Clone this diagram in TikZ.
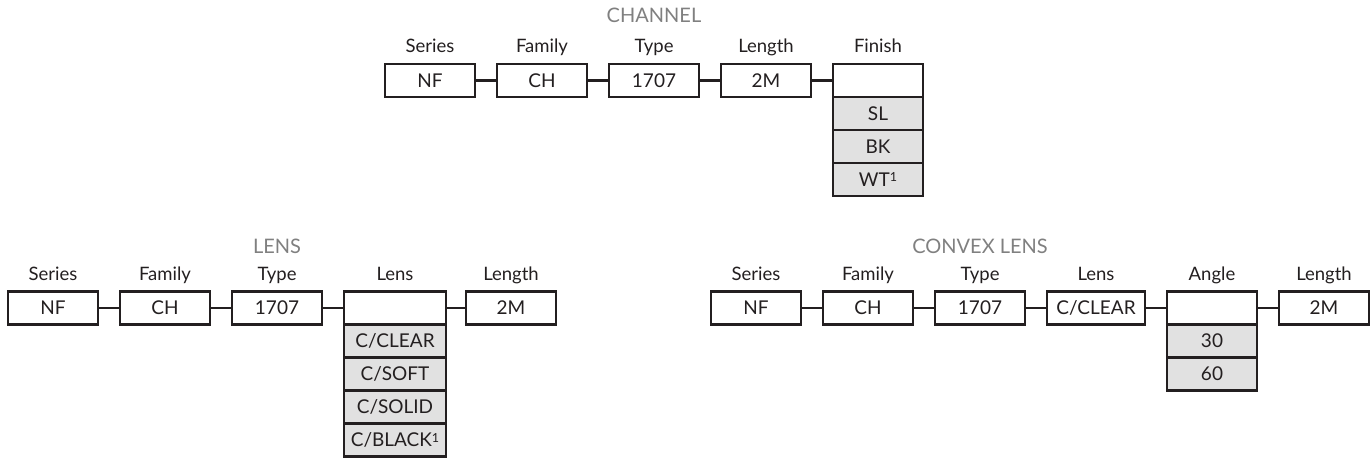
\documentclass[tikz,border=0pt]{standalone}
\usepackage{fontspec}
\setmainfont{Lato}
\usepackage{xcolor}
\usetikzlibrary{positioning}
\definecolor{codeline}{HTML}{231F20}
\definecolor{optfill}{HTML}{E1E1E1}
\definecolor{titlegray}{HTML}{808080}
\newcommand{\noteone}{\raisebox{4.5pt}{\fontsize{12.5}{12.5}\selectfont 1}}

\begin{document}
\begin{tikzpicture}[
        x=1pt, y=-1pt,
        node distance=22pt,
        field/.style={
            draw=codeline,
            line width=2.2pt,
            minimum width=90pt,
            minimum height=33pt,
            inner sep=0pt,
            outer sep=0pt,
            fill=white,
            text=codeline,
            font=\fontsize{19}{19}\selectfont
        },
        option/.style={field, fill=optfill},
        heading/.style={text=codeline, inner sep=0pt, text height=13pt, text depth=4pt,
            font=\fontsize{18.5}{18.5}\selectfont},
        grouptitle/.style={text=titlegray, inner sep=0pt, anchor=base,
            font=\fontsize{20}{20}\selectfont},
        link/.style={draw=codeline, line width=2.2pt}
    ]
        \useasboundingbox (0,0) rectangle (1372,460);

        % channel
        \node[grouptitle] (chtitle) at (654,23) {CHANNEL};
        \node[field] (chseries) at (430,80.5) {NF};
        \node[field, right=of chseries] (chfamily) {CH};
        \node[field, right=of chfamily] (chtype) {1707};
        \node[field, right=of chtype] (chlength) {2M};
        \node[field, right=of chlength] (chfinish) {};
        \node[option, below=0pt of chfinish] (chsl) {SL};
        \node[option, below=0pt of chsl] (chbk) {BK};
        \node[option, below=0pt of chbk] (chwt) {WT\noteone};
        \foreach \f/\t in {chseries/Series, chfamily/Family, chtype/Type, chlength/Length, chfinish/Finish}
            \node[heading, above=7pt of \f] {\t};
        \draw[link] (chseries) -- (chfamily);
        \draw[link] (chfamily) -- (chtype);
        \draw[link] (chtype) -- (chlength);
        \draw[link] (chlength) -- (chfinish);

        % lens
        \node[grouptitle] (lstitle) at (277,253) {LENS};
        \node[field] (lsseries) at (53,308) {NF};
        \node[field, right=of lsseries] (lsfamily) {CH};
        \node[field, right=of lsfamily] (lstype) {1707};
        \node[field, right=of lstype, minimum width=102pt] (lslens) {};
        \node[field, right=20pt of lslens] (lslength) {2M};
        \node[option, below=0pt of lslens, minimum width=102pt] (lsclear) {C/CLEAR};
        \node[option, below=0pt of lsclear, minimum width=102pt] (lssoft) {C/SOFT};
        \node[option, below=0pt of lssoft, minimum width=102pt] (lssolid) {C/SOLID};
        \node[option, below=0pt of lssolid, minimum width=102pt] (lsblack) {C/BLACK\noteone};
        \foreach \f/\t in {lsseries/Series, lsfamily/Family, lstype/Type, lslens/Lens, lslength/Length}
            \node[heading, above=7pt of \f] {\t};
        \draw[link] (lsseries) -- (lsfamily);
        \draw[link] (lsfamily) -- (lstype);
        \draw[link] (lstype) -- (lslens);
        \draw[link] (lslens) -- (lslength);

        % convex lens
        \node[grouptitle] (cxtitle) at (980,253) {CONVEX LENS};
        \node[field] (cxseries) at (756,308) {NF};
        \node[field, right=of cxseries] (cxfamily) {CH};
        \node[field, right=of cxfamily] (cxtype) {1707};
        \node[field, right=of cxtype, minimum width=98pt] (cxlens) {C/CLEAR};
        \node[field, right=of cxlens] (cxangle) {};
        \node[field, right=of cxangle] (cxlength) {2M};
        \node[option, below=0pt of cxangle] (cxthirty) {30};
        \node[option, below=0pt of cxthirty] (cxsixty) {60};
        \foreach \f/\t in {cxseries/Series, cxfamily/Family, cxtype/Type, cxlens/Lens, cxangle/Angle, cxlength/Length}
            \node[heading, above=7pt of \f] {\t};
        \draw[link] (cxseries) -- (cxfamily);
        \draw[link] (cxfamily) -- (cxtype);
        \draw[link] (cxtype) -- (cxlens);
        \draw[link] (cxlens) -- (cxangle);
        \draw[link] (cxangle) -- (cxlength);
    \end{tikzpicture}
\end{document}
